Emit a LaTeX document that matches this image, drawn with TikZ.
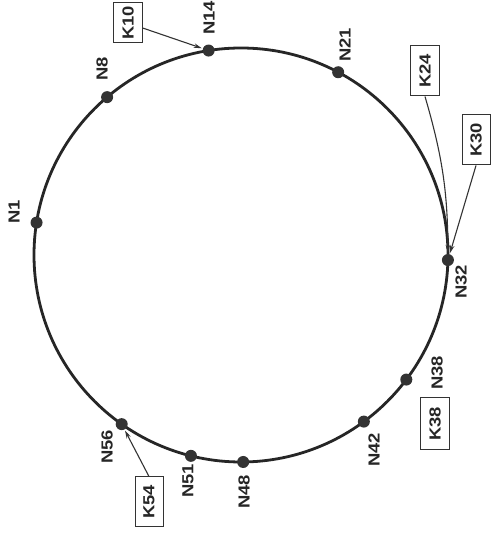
\documentclass[tikz,border=0pt]{standalone}
\usepackage{fontspec}
\setmainfont{Liberation Sans}
\newfontfamily\labfont[FakeStretch=1.15]{Liberation Sans}
\usetikzlibrary{arrows.meta,calc}
\begin{document}
\begin{tikzpicture}[x=1pt,y=1pt,
  ring/.style={line width=2.8pt, draw=black!85},
  peer/.style={circle, fill=black!80, inner sep=0pt, minimum size=12pt},
  lab/.style={rotate=90, font=\labfont\bfseries\fontsize{16}{19}\selectfont, text=black!85, inner sep=0pt},
  keybox/.style={draw=black!80, line width=1pt, rotate=90, minimum width=50pt, minimum height=29pt, inner sep=0pt, font=\labfont\bfseries\fontsize{16}{19}\selectfont, text=black!85},
  ptr/.style={-{Stealth[length=8pt,width=4.5pt]}, line width=1.1pt, draw=black!80, shorten >=1pt}]
\useasboundingbox (0,0) rectangle (491,538);
\fill[white] (0,0) rectangle (491,538);
\coordinate (C) at (241,283);
\draw[ring] (C) circle[radius=207];
\foreach \n/\a in {N14/99, N21/62, N32/-1.4, N38/-37, N42/-53.6, N48/-89.4, N51/-104, N56/-125.2, N1/171, N8/130.3}
  \node[peer] (\n) at ($(C)+(\a:207pt)$) {};
% peer labels
\node[lab] (lN14) at (209,520) {N14};
\node[lab] (lN21) at (345,493) {N21};
\node[lab] (lN32) at (461,256) {N32};
\node[lab] (lN38) at (437,165) {N38};
\node[lab] (lN42) at (374,88) {N42};
\node[lab] (lN48) at (244,46) {N48};
\node[lab] (lN51) at (188,57) {N51};
\node[lab] (lN56) at (107,91) {N56};
\node[lab] (lN1) at (14,326) {N1};
\node[lab] (lN8) at (102,469) {N8};
% keys
\node[keybox, minimum width=40pt] (K10) at (128,515) {K10};
\node[keybox] (K24) at (425,467) {K24};
\node[keybox, minimum height=28pt] (K30) at (476,398) {K30};
\node[keybox, minimum width=52pt] (K38) at (435,114) {K38};
\node[keybox, minimum height=28pt] (K54) at (149,36) {K54};
% pointers
\draw[ptr] (K10) -- (N14);
\draw[ptr] (K24.west) to[bend left=8] (N32);
\draw[ptr] (K30.west) -- (N32);
\draw[ptr] (K54.east) -- (N56);
\end{tikzpicture}
\end{document}
